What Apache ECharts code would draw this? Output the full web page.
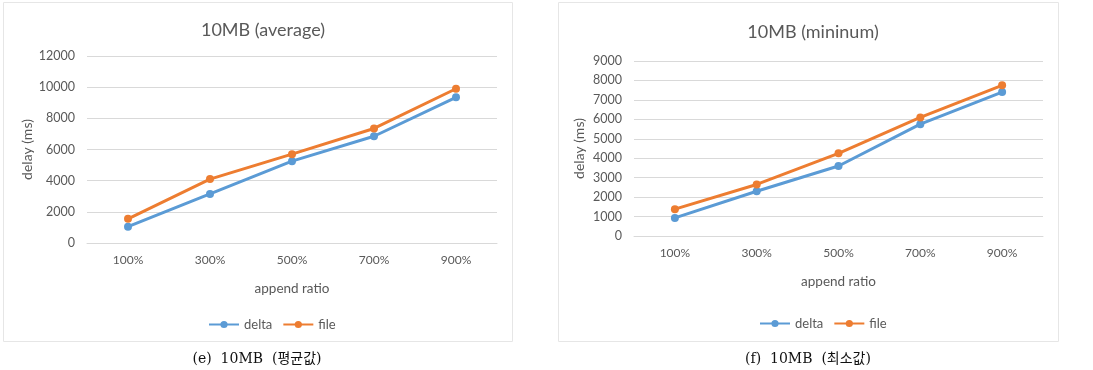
<!DOCTYPE html>
<html><head><meta charset="utf-8">
<script src="https://cdn.jsdelivr.net/npm/echarts@6/dist/echarts.min.js"></script>
<style>html,body{margin:0;padding:0;background:#fff}#c{width:1093px;height:370px}</style>
</head><body><div id="c"></div>
<script>
const categories = ['100%', '300%', '500%', '700%', '900%'];
const avgDelta = [1050, 3150, 5250, 6850, 9350];
const avgFile = [1550, 4100, 5700, 7350, 9900];
const minDelta = [930, 2300, 3600, 5750, 7400];
const minFile = [1380, 2650, 4250, 6100, 7750];
const titles = ['10MB (average)', '10MB (mininum)'];
const captions = ['(e)  10MB  (평균값)', '(f)  10MB  (최소값)'];
const seriesNames = ['delta', 'file'];
const colors = ['#5B9BD5', '#ED7D31'];

const txt = '#595959';
const font = 'Lato, "Open Sans", sans-serif';
const chart = echarts.init(document.getElementById('c'), null, {renderer: 'canvas'});

function yAxis(gi, max, interval) {
  return {
    type: 'value', gridIndex: gi, min: 0, max: max, interval: interval,
    name: 'delay (ms)', nameLocation: 'middle', nameRotate: 90, nameGap: 48,
    nameTextStyle: {color: txt, fontSize: 14, fontFamily: font},
    axisLine: {show: false}, axisTick: {show: false},
    axisLabel: {color: txt, fontSize: 12.5, fontFamily: font, margin: 12, formatter: v => String(v)},
    splitLine: {lineStyle: {color: '#D9D9D9', width: 1}}
  };
}
function xAxis(gi) {
  return {
    type: 'category', gridIndex: gi, data: categories, boundaryGap: true,
    name: 'append ratio', nameLocation: 'middle', nameGap: 39,
    nameTextStyle: {color: txt, fontSize: 13.5, fontFamily: font},
    axisLine: {show: true, lineStyle: {color: '#D9D9D9'}}, axisTick: {show: false},
    axisLabel: {color: txt, fontSize: 12, fontFamily: font, margin: 11}
  };
}
function line(name, data, gi, ci) {
  return {
    type: 'line', name: name, data: data, xAxisIndex: gi, yAxisIndex: gi,
    symbol: 'circle', symbolSize: 8,
    lineStyle: {color: colors[ci], width: 3},
    itemStyle: {color: colors[ci]}
  };
}

chart.setOption({
  backgroundColor: '#fff',
  animation: false,
  title: [
    {text: titles[0], left: 258, top: 16, textAlign: 'center',
     textStyle: {color: txt, fontSize: 18, fontWeight: 'normal', fontFamily: font}},
    {text: titles[1], left: 808, top: 18, textAlign: 'center',
     textStyle: {color: txt, fontSize: 18, fontWeight: 'normal', fontFamily: font}}
  ],
  legend: [
    {data: seriesNames, top: 313, itemWidth: 30, itemHeight: 9, itemGap: 10,
     left: 203, textStyle: {color: txt, fontSize: 13, fontFamily: font}},
    {data: seriesNames, top: 312, itemWidth: 30, itemHeight: 9, itemGap: 10,
     left: 754, textStyle: {color: txt, fontSize: 13, fontFamily: font}}
  ],
  grid: [
    {left: 87, top: 56, width: 410, height: 187},
    {left: 634, top: 61, width: 409, height: 175}
  ],
  xAxis: [xAxis(0), xAxis(1)],
  yAxis: [yAxis(0, 12000, 2000), yAxis(1, 9000, 1000)],
  series: [
    line(seriesNames[0], avgDelta, 0, 0),
    line(seriesNames[1], avgFile, 0, 1),
    line(seriesNames[0], minDelta, 1, 0),
    line(seriesNames[1], minFile, 1, 1)
  ],
  graphic: [
    {type: 'rect', shape: {x: 3.5, y: 2.5, width: 509, height: 339}, style: {fill: 'none', stroke: '#E6E6E6', lineWidth: 1}, z: -1},
    {type: 'rect', shape: {x: 558.5, y: 2.5, width: 500, height: 339}, style: {fill: 'none', stroke: '#E6E6E6', lineWidth: 1}, z: -1},
    {type: 'text', x: 257, y: 359, style: {text: captions[0], fill: '#111', font: '14px "DejaVu Serif", "Noto Sans CJK KR", serif', textAlign: 'center', textVerticalAlign: 'middle'}},
    {type: 'text', x: 808, y: 359, style: {text: captions[1], fill: '#111', font: '14px "DejaVu Serif", "Noto Sans CJK KR", serif', textAlign: 'center', textVerticalAlign: 'middle'}}
  ]
});
</script></body></html>
